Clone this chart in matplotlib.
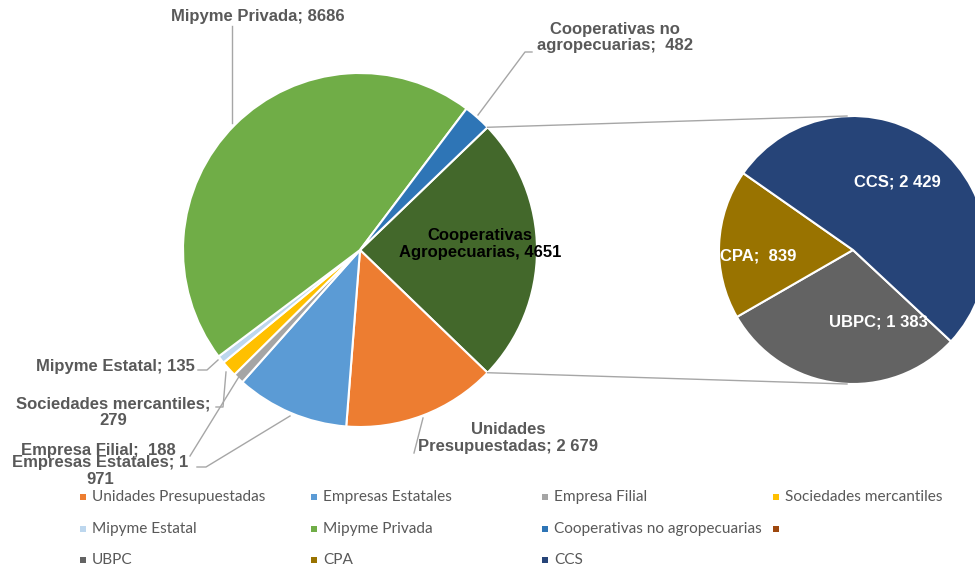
import numpy as np
import matplotlib
matplotlib.use('Agg')
import matplotlib.pyplot as plt

# main pie (Cooperativas Agropecuarias is split out into the second pie)
main_names = ['Cooperativas Agropecuarias', 'Unidades Presupuestadas', 'Empresas Estatales',
              'Empresa Filial', 'Sociedades mercantiles', 'Mipyme Estatal',
              'Mipyme Privada', 'Cooperativas no agropecuarias']
main_values = [4651, 2679, 1971, 188, 279, 135, 8686, 482]
main_colors = ['#43682B', '#ED7D31', '#5B9BD5', '#A5A5A5', '#FFC000', '#BDD7EE',
               '#70AD47', '#2E75B6']

# second pie
sub_names = ['UBPC', 'CPA', 'CCS']
sub_values = [1383, 839, 2429]
sub_colors = ['#636363', '#997300', '#264478']

# legend entries (row order as in reference; the empty one is the "other" entry)
legend_names = ['Unidades Presupuestadas', 'Empresas Estatales', 'Empresa Filial',
                'Sociedades mercantiles', 'Mipyme Estatal', 'Mipyme Privada',
                'Cooperativas no agropecuarias', '', 'UBPC', 'CPA', 'CCS']
legend_colors = ['#ED7D31', '#5B9BD5', '#A5A5A5', '#FFC000', '#BDD7EE', '#70AD47',
                 '#2E75B6', '#9E480E', '#636363', '#997300', '#264478']

W, H = 975, 571
TXT = '#595959'
LINE = '#A6A6A6'
BOLD = ['Liberation Sans', 'DejaVu Sans']
LEG_FONT = ['Lato', 'DejaVu Sans']

fig = plt.figure(figsize=(W / 100, H / 100), dpi=100)
ax = fig.add_axes([0, 0, 1, 1])

c1 = (360, H - 250)
r1 = 177
c2 = (853, H - 250)
r2 = 134

other_span = main_values[0] / sum(main_values) * 360
ax.pie(main_values, colors=main_colors, startangle=other_span / 2, counterclock=False,
       center=c1, radius=r1, wedgeprops=dict(edgecolor='white', linewidth=1.5))
ax.pie(sub_values, colors=sub_colors, startangle=-43, counterclock=False,
       center=c2, radius=r2, wedgeprops=dict(edgecolor='white', linewidth=1.5))

# connector lines between the pies
a = np.radians(other_span / 2)
ax.plot([c1[0] + r1 * np.cos(a), c2[0] - 6], [c1[1] + r1 * np.sin(a), c2[1] + r2],
        color=LINE, lw=1)
ax.plot([c1[0] + r1 * np.cos(a), c2[0] - 6], [c1[1] - r1 * np.sin(a), c2[1] - r2],
        color=LINE, lw=1)

ax.set_xlim(0, W)
ax.set_ylim(0, H)
ax.set_aspect('equal')
ax.axis('off')


def label(x, y, s, color=TXT, ha='center', **kw):
    ax.text(x, H - y, s, color=color, ha=ha, va='center', fontsize=12,
            fontweight='bold', family=BOLD, linespacing=1.12, **kw)


def leader(xs, ys):
    ax.plot(xs, [H - v for v in ys], color=LINE, lw=1)


label(258, 17, 'Mipyme Privada; 8686')
leader([232, 232], [26, 123])

label(615, 37.5, 'Cooperativas no\nagropecuarias;  482')
leader([478, 525, 532], [115, 52, 52])

label(480, 244, 'Cooperativas\nAgropecuarias, 4651', color='black')

label(508, 438, 'Unidades\nPresupuestadas; 2 679')
leader([423, 414], [418, 453])

label(195, 367, 'Mipyme Estatal; 135', ha='right')
leader([198, 207, 218], [370, 370, 360])

label(113, 412, 'Sociedades mercantiles;\n279')
leader([216, 223, 226], [407, 407, 372])

label(98, 450, 'Empresa Filial;  188')
leader([190, 240], [456, 375])

label(100, 471, 'Empresas Estatales; 1\n971')
leader([197, 206, 290], [467, 467, 416])

# labels inside the second pie
label(897, 182, 'CCS; 2 429', color='white')
label(878, 322, 'UBPC; 1 383', color='white')
label(758, 256, 'CPA;  839', color='white')

# legend, 4 columns laid out row by row
for i, (name, col) in enumerate(zip(legend_names, legend_colors)):
    x = 83 + 231 * (i % 4)
    y = H - (497 + 31.5 * (i // 4))
    ax.scatter([x], [y], marker='s', s=20, color=col, linewidths=0)
    ax.text(x + 9, y, name, color=TXT, ha='left', va='center', fontsize=11.1,
            family=LEG_FONT)

fig.savefig('out.png', dpi=100)
